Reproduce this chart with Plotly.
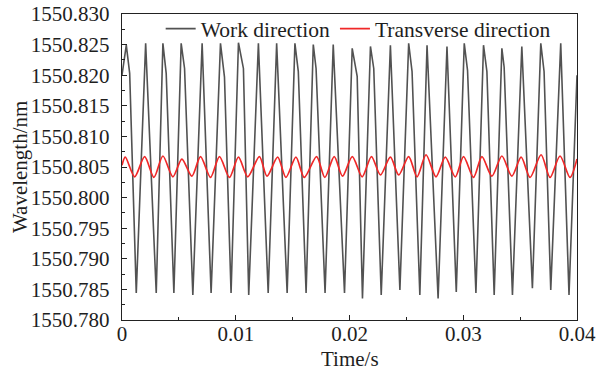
import plotly.graph_objects as go

# ---- Work direction (gray) : vertices ----
work_start = (0.0, 1550.8200)
work_end = (0.04, 1550.8200)
work_peak_t = [0.000377, 0.002079, 0.003596, 0.005202, 0.007044, 0.008658, 0.010237, 0.011991,
               0.013596, 0.015202, 0.016816, 0.018570, 0.020237, 0.021842, 0.023596, 0.025202,
               0.026816, 0.028570, 0.030088, 0.031781, 0.033395, 0.035149, 0.036816, 0.038570]
work_peak_v = [1550.8249, 1550.8252, 1550.8252, 1550.8252, 1550.8252, 1550.8252, 1550.8253, 1550.8252,
               1550.8252, 1550.8252, 1550.8250, 1550.8250, 1550.8244, 1550.8247, 1550.8249, 1550.8252,
               1550.8249, 1550.8247, 1550.8252, 1550.8249, 1550.8244, 1550.8247, 1550.8252, 1550.8252]
# shoulder on the falling side (None where the fall is straight)
work_sh_t = [0.000675, None, 0.003886, 0.005500, None, 0.009009, 0.010675, None,
             None, 0.015500, 0.017061, None, 0.020675, 0.022132, None, 0.025500,
             None, None, 0.030377, 0.032079, 0.033596, None, 0.037105, None]
work_sh_v = [1550.8203, None, 1550.8203, 1550.8211, None, 1550.8197, 1550.8211, None,
             None, 1550.8206, 1550.8211, None, 1550.8198, 1550.8211, None, 1550.8206,
             None, None, 1550.8208, 1550.8206, 1550.8213, None, 1550.8206, None]
work_trough_t = [0.001254, 0.003009, 0.004561, 0.006228, 0.007833, 0.009588, 0.011140, 0.012851,
                 0.014518, 0.016184, 0.017851, 0.019561, 0.021140, 0.022789, 0.024430, 0.026184,
                 0.027789, 0.029386, 0.031114, 0.032719, 0.034325, 0.036079, 0.037693, 0.039298]
work_trough_v = [1550.7844, 1550.7844, 1550.7844, 1550.7841, 1550.7844, 1550.7844, 1550.7841, 1550.7844,
                 1550.7844, 1550.7844, 1550.7844, 1550.7844, 1550.7835, 1550.7841, 1550.7849, 1550.7841,
                 1550.7835, 1550.7846, 1550.7844, 1550.7841, 1550.7841, 1550.7852, 1550.7849, 1550.7841]

# ---- Transverse direction (red) ----
trans_start = (0.0, 1550.8053)
trans_end = (0.04, 1550.8063)
trans_peak_t = [0.000289, 0.001991, 0.003596, 0.005263, 0.006904, 0.008570, 0.010237, 0.012079,
                0.013684, 0.015289, 0.017105, 0.018658, 0.020246, 0.021930, 0.023596, 0.025202,
                0.026728, 0.028421, 0.030026, 0.031640, 0.033395, 0.035088, 0.036842, 0.038509]
trans_peak_v = [1550.8066, 1550.8067, 1550.8068, 1550.8063, 1550.8067, 1550.8067, 1550.8066, 1550.8067,
                1550.8066, 1550.8066, 1550.8067, 1550.8067, 1550.8067, 1550.8067, 1550.8066, 1550.8067,
                1550.8070, 1550.8066, 1550.8067, 1550.8067, 1550.8068, 1550.8066, 1550.8070, 1550.8068]
trans_trough_t = [0.001114, 0.002807, 0.004474, 0.006140, 0.007781, 0.009447, 0.011053, 0.012746,
                  0.014412, 0.016026, 0.017833, 0.019386, 0.021114, 0.022719, 0.024325, 0.025939,
                  0.027605, 0.029298, 0.030904, 0.032518, 0.034272, 0.035877, 0.037632, 0.039386]
trans_trough_v = [1550.8034, 1550.8033, 1550.8034, 1550.8035, 1550.8033, 1550.8033, 1550.8034, 1550.8035,
                  1550.8033, 1550.8033, 1550.8033, 1550.8035, 1550.8034, 1550.8037, 1550.8037, 1550.8034,
                  1550.8034, 1550.8034, 1550.8033, 1550.8035, 1550.8035, 1550.8033, 1550.8033, 1550.8033]

x_ticks = [0, 0.01, 0.02, 0.03, 0.04]
x_tick_text = ["0", "0.01", "0.02", "0.03", "0.04"]
y_ticks = [1550.780, 1550.785, 1550.790, 1550.795, 1550.800, 1550.805,
           1550.810, 1550.815, 1550.820, 1550.825, 1550.830]
y_tick_text = ["%.3f" % v for v in y_ticks]
x_title = "Time/s"
y_title = "Wavelength/nm"

# assemble vertex sequences
wx, wy = [work_start[0]], [work_start[1]]
for i in range(len(work_peak_t)):
    wx.append(work_peak_t[i]); wy.append(work_peak_v[i])
    if work_sh_t[i] is not None:
        wx.append(work_sh_t[i]); wy.append(work_sh_v[i])
    wx.append(work_trough_t[i]); wy.append(work_trough_v[i])
wx.append(work_end[0]); wy.append(work_end[1])

tx, ty = [trans_start[0]], [trans_start[1]]
for i in range(len(trans_peak_t)):
    tx.append(trans_peak_t[i]); ty.append(trans_peak_v[i])
    tx.append(trans_trough_t[i]); ty.append(trans_trough_v[i])
tx.append(trans_end[0]); ty.append(trans_end[1])

FONT = "Liberation Serif, Times New Roman, serif"
TXT = "#1e1e1e"

fig = go.Figure()
fig.add_trace(go.Scatter(x=wx, y=wy, mode="lines", name="Work direction",
                         line=dict(color="#525252", width=1.6)))
fig.add_trace(go.Scatter(x=tx, y=ty, mode="lines", name="Transverse direction",
                         line=dict(color="#f02828", width=1.7, shape="spline", smoothing=0.8)))

fig.update_layout(
    width=596, height=370,
    margin=dict(l=122, r=19, t=14, b=50, autoexpand=False),
    paper_bgcolor="white", plot_bgcolor="white",
    font=dict(family=FONT, size=21, color=TXT),
    showlegend=True,
    legend=dict(orientation="h", x=0.085, xanchor="left", y=0.952, yanchor="middle",
                bgcolor="rgba(0,0,0,0)", font=dict(family=FONT, size=21.5, color=TXT),
                itemwidth=30, tracegroupgap=0),
    xaxis=dict(range=[0, 0.04], tickvals=x_ticks, ticktext=x_tick_text, automargin=False,
               ticks="inside", ticklen=5, tickwidth=1.2, tickcolor="#222",
               showline=True, linecolor="#222", linewidth=1.4, mirror=True,
               showgrid=False, zeroline=False, ticklabelstandoff=-5,
               tickfont=dict(family=FONT, size=21, color=TXT),
               minor=dict(ticks="inside", ticklen=3, tickwidth=1.2, tickcolor="#222", dtick=0.005, tick0=0, showgrid=False)),
    yaxis=dict(range=[1550.780, 1550.830], tickvals=y_ticks, ticktext=y_tick_text, automargin=False,
               ticks="inside", ticklen=5, tickwidth=1.2, tickcolor="#222",
               showline=True, linecolor="#222", linewidth=1.4, mirror=True,
               showgrid=False, zeroline=False, ticklabelstandoff=7,
               tickfont=dict(family=FONT, size=21, color=TXT),
               minor=dict(ticks="inside", ticklen=3, tickwidth=1.2, tickcolor="#222", dtick=0.0025, tick0=1550.78, showgrid=False)),
    annotations=[
        dict(text=x_title, xref="paper", yref="paper", x=0.5, y=-0.127, xanchor="center", yanchor="middle",
             showarrow=False, font=dict(family=FONT, size=21, color=TXT)),
        dict(text=y_title, xref="paper", yref="paper", x=-0.224, y=0.5, xanchor="center", yanchor="middle",
             textangle=-90, showarrow=False, font=dict(family=FONT, size=21, color=TXT)),
    ],
)

fig.write_html("out.html")
